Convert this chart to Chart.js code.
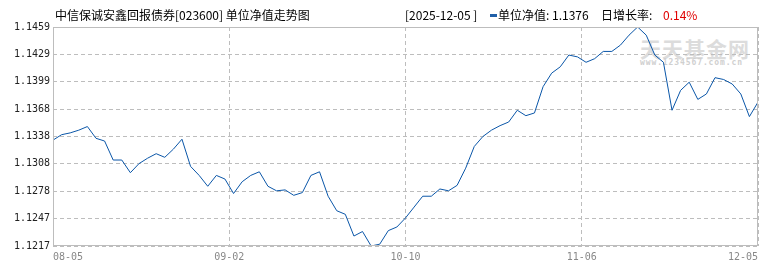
<!DOCTYPE html>
<html>
<head>
<meta charset="utf-8">
<script src="https://cdn.jsdelivr.net/npm/chart.js@4.4.1/dist/chart.umd.min.js"></script>
<style>
body { margin: 0; background: #fff; }
#wrap { position: relative; width: 770px; height: 270px; font-family: "Noto Sans CJK SC", sans-serif; }
#myChart { position: absolute; left: 0; top: 0; }
.hd { position: absolute; top: 7px; font-size: 12px; line-height: 16px; white-space: nowrap; color: #000; }
.mark { position: absolute; left: 490px; top: 14px; width: 7px; height: 3px; background: #1f5fa8; }
.wm1 { position: absolute; left: 640px; top: 33px; font-size: 21px; font-weight: bold; color: #dcdcdc; letter-spacing: 1px; white-space: nowrap; }
.wm2 { position: absolute; left: 640px; top: 58px; font-family: "DejaVu Sans Mono", monospace; font-size: 8px; font-weight: bold; color: #d0d0d0; letter-spacing: 0.9px; white-space: nowrap; }
</style>
</head>
<body>
<div id="wrap">
  <div class="wm1">天天基金网</div>
  <div class="wm2">www.1234567.com.cn</div>
  <canvas id="myChart" width="770" height="270"></canvas>
  <div class="hd" style="left:55px">中信保诚安鑫回报债券[023600] 单位净值走势图</div>
  <div class="hd" style="left:405px">[2025-12-05 ]</div>
  <div class="mark"></div>
  <div class="hd" style="left:498px">单位净值: 1.1376</div>
  <div class="hd" style="left:601px">日增长率:</div>
  <div class="hd" style="left:663px;color:#e00000">0.14%</div>
</div>
<script>
// unit NAV, one point per trading day 08-05 .. 12-05
const navValues = [
  1.1334, 1.1340, 1.1342, 1.1345, 1.1349, 1.1336, 1.1333, 1.1312, 1.1312, 1.1298,
  1.1308, 1.1314, 1.1319, 1.1315, 1.1324, 1.1335, 1.1305, 1.1295, 1.1283, 1.1295,
  1.1291, 1.1275, 1.1288, 1.1295, 1.1299, 1.1283, 1.1278, 1.1279, 1.1273, 1.1276,
  1.1295, 1.1299, 1.1272, 1.1256, 1.1252, 1.1228, 1.1233, 1.1217, 1.1219, 1.1234,
  1.1238, 1.1248, 1.1260, 1.1272, 1.1272, 1.1280, 1.1278, 1.1284, 1.1303, 1.1327,
  1.1338, 1.1345, 1.1350, 1.1354, 1.1367, 1.1361, 1.1364, 1.1393, 1.1408, 1.1415,
  1.1428, 1.1426, 1.1420, 1.1424, 1.1432, 1.1432, 1.1439, 1.1450, 1.1459, 1.1450,
  1.1428, 1.1420, 1.1367, 1.1389, 1.1398, 1.1379, 1.1385, 1.1403, 1.1401, 1.1396,
  1.1385, 1.1360, 1.1376
];
const xTickLabels = ['08-05', '09-02', '10-10', '11-06', '12-05'];
const yTickLabels = ['1.1217', '1.1247', '1.1278', '1.1308', '1.1338', '1.1368', '1.1399', '1.1429', '1.1459'];
const yMin = 1.1217;
const yMax = 1.1459;

const lastIdx = navValues.length - 1;
const points = navValues.map(function(v, i) { return { x: i, y: v }; });
const xTickPos = xTickLabels.map(function(_, i) { return i * lastIdx / (xTickLabels.length - 1); });
const yTickPos = yTickLabels.map(function(_, i) { return yMin + i * (yMax - yMin) / (yTickLabels.length - 1); });

// solid frame round the plot area
const framePlugin = {
  id: 'frame',
  afterDraw: function(chart) {
    const a = chart.chartArea;
    const c = chart.ctx;
    c.save();
    c.strokeStyle = '#bdbdbd';
    c.lineWidth = 1;
    c.strokeRect(a.left + 0.5, a.top + 0.5, a.right - a.left - 1, a.bottom - a.top - 1);
    c.restore();
  }
};

const ctx = document.getElementById('myChart').getContext('2d');
new Chart(ctx, {
  type: 'line',
  data: {
    datasets: [{
      data: points,
      borderColor: '#0a56a8',
      borderWidth: 1,
      pointRadius: 0,
      tension: 0,
      fill: false
    }]
  },
  options: {
    responsive: false,
    animation: false,
    events: [],
    layout: { padding: { left: 0, right: 12, top: 27, bottom: 0 } },
    plugins: { legend: { display: false }, tooltip: { enabled: false } },
    scales: {
      x: {
        type: 'linear',
        min: 0,
        max: lastIdx,
        afterBuildTicks: function(scale) {
          scale.ticks = xTickPos.map(function(v) { return { value: v }; });
        },
        afterFit: function(scale) { scale.height = 24; },
        grid: { color: '#bdbdbd', lineWidth: 1, drawTicks: false },
        border: { display: false, dash: [4, 3] },
        ticks: {
          autoSkip: false,
          maxRotation: 0,
          align: 'inner',
          padding: 5,
          color: '#888',
          font: { family: 'DejaVu Sans Mono', size: 10 },
          callback: function(value, index) { return xTickLabels[index]; }
        }
      },
      y: {
        min: yMin,
        max: yMax,
        afterBuildTicks: function(scale) {
          scale.ticks = yTickPos.map(function(v) { return { value: v }; });
        },
        afterFit: function(scale) { scale.width = 53; },
        grid: { color: '#bdbdbd', lineWidth: 1, drawTicks: false },
        border: { display: false, dash: [4, 3] },
        ticks: {
          padding: 3,
          color: '#222',
          font: { family: 'DejaVu Sans Mono', size: 10 },
          callback: function(value, index) { return yTickLabels[index]; }
        }
      }
    }
  },
  plugins: [framePlugin]
});
</script>
</body>
</html>
